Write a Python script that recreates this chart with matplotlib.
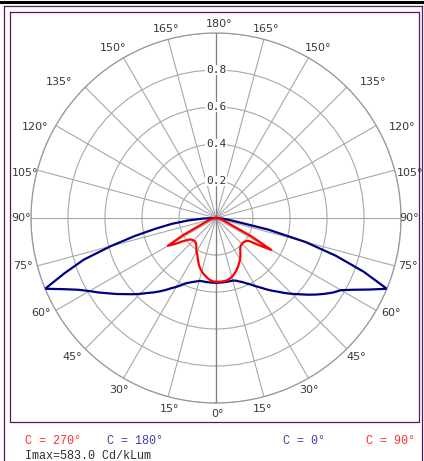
import numpy as np
import matplotlib
matplotlib.use('Agg')
import matplotlib.pyplot as plt
from matplotlib.lines import Line2D

# ---------------- data ----------------
gamma = np.arange(0, 90.1, 2.5)  # degrees, 0 = nadir

c0 = [0.35, 0.35, 0.35, 0.35, 0.35, 0.35, 0.35, 0.355, 0.365, 0.375, 0.39, 0.405,
      0.425, 0.445, 0.47, 0.495, 0.52, 0.55, 0.58, 0.61, 0.645, 0.68, 0.715, 0.75,
      0.78, 0.84, 0.915, 1.0, 0.85, 0.68, 0.50, 0.29, 0.11, 0.06, 0.03, 0.01, 0.0]
c180 = [0.35, 0.35, 0.35, 0.35, 0.35, 0.35, 0.352, 0.36, 0.368, 0.378, 0.39, 0.41,
        0.43, 0.45, 0.475, 0.50, 0.525, 0.55, 0.58, 0.61, 0.64, 0.675, 0.71, 0.75,
        0.79, 0.84, 0.91, 1.0, 0.87, 0.75, 0.59, 0.45, 0.33, 0.24, 0.15, 0.07, 0.0]
c90 = [0.345, 0.345, 0.345, 0.344, 0.342, 0.337, 0.33, 0.32, 0.31, 0.298, 0.285, 0.272,
       0.26, 0.245, 0.23, 0.215, 0.205, 0.2, 0.198, 0.198, 0.2, 0.205, 0.215, 0.27,
       0.345, 0.22, 0.10, 0.07, 0.05, 0.04, 0.03, 0.025, 0.02, 0.015, 0.01, 0.005, 0.0]
c270 = [0.345, 0.343, 0.338, 0.33, 0.32, 0.31, 0.298, 0.285, 0.27, 0.252, 0.235, 0.22,
        0.21, 0.198, 0.185, 0.177, 0.172, 0.17, 0.172, 0.175, 0.18, 0.195, 0.22, 0.26,
        0.30, 0.20, 0.10, 0.07, 0.05, 0.04, 0.03, 0.025, 0.02, 0.015, 0.01, 0.005, 0.0]

ring_values = [0.2, 0.4, 0.6, 0.8]
ring_labels = ['0.2', '0.4', '0.6', '0.8']
angle_ticks = list(range(0, 181, 15))
legend_labels = ['C = 270°', 'C = 180°', 'C = 0°', 'C = 90°']
imax_text = 'Imax=583.0 Cd/kLum'

# label placement offsets (pixels from the outer circle point), layout only
lab_dx_left = [2, 1.5, -4.5, -13, -15, -14, -10, -12, -21, -26, -10.5, -2, 3]
lab_dx_right = [2, -1, 0, 9, 15, 13, 8, 15, 26, 26, 10, 2.5, 3]
lab_dy = [11, 12.5, 12, 8.5, 2.5, 0, 0, 3, 1.5, -5, -10, -10, -9]

# ---------------- figure ----------------
W, H = 424, 461
fig = plt.figure(figsize=(W / 100, H / 100), dpi=100)
fig.patch.set_facecolor('white')


def fx(x):
    return x / W


def fy(y):
    return 1 - y / H


cx, cy, R = 216, 218, 185
ax = fig.add_axes([fx(cx - R), fy(cy + R), 2 * R / W, 2 * R / H], projection='polar')
ax.set_theta_zero_location('S')
ax.set_theta_direction(1)
ax.set_ylim(0, 1)
ax.set_yticks(ring_values + [1.0])
ax.set_yticklabels([])
ax.set_xticks(np.deg2rad(np.arange(0, 360, 15)))
ax.set_xticklabels([])
ax.grid(True, color='#a8a8a8', lw=0.8)
ax.spines['polar'].set_color('#999999')
ax.spines['polar'].set_linewidth(0.9)

# darker vertical axis
ax.plot([0, 0], [0, 1], color='#808080', lw=0.9, zorder=2)
ax.plot([np.pi, np.pi], [0, 1], color='#808080', lw=0.9, zorder=2)

g = np.deg2rad(gamma)
navy = '#000080'
red = '#ff0000'
ax.plot(g, c0, color=navy, lw=1.6, zorder=4)
ax.plot(-g, c180, color=navy, lw=1.6, zorder=4)
ax.plot(g, c90, color=red, lw=1.6, zorder=5)
ax.plot(-g, c270, color=red, lw=1.6, zorder=5)

# ring labels
for v, lab in zip(ring_values, ring_labels):
    ax.text(np.pi, v, lab, ha='center', va='center', fontsize=8,
            family='DejaVu Sans Mono', color='#303030', zorder=3,
            bbox=dict(fc='white', ec='none', pad=0.3))

# angle labels
for i, a in enumerate(angle_ticks):
    sides = [(a, lab_dx_left[i])] if a in (0, 180) else [(-a, lab_dx_left[i]), (a, lab_dx_right[i])]
    for t, dx in sides:
        ax.annotate(f'{a}°', xy=(np.deg2rad(t), 1.0), xytext=(dx, -lab_dy[i]),
                    textcoords='offset pixels', ha='center', va='center',
                    fontsize=8, color='#383838', annotation_clip=False)

# frame lines
purple = '#5a1a5a'
fig.add_artist(Line2D([0, 1], [fy(2), fy(2)], color='black', lw=2.2, transform=fig.transFigure))
fig.add_artist(Line2D([fx(4), fx(4)], [fy(6), 0], color=purple, lw=0.9, transform=fig.transFigure))
fig.add_artist(Line2D([fx(4), fx(422)], [fy(6), fy(6)], color=purple, lw=0.9, transform=fig.transFigure))
fig.add_artist(Line2D([fx(422), fx(422)], [fy(6), 0], color=purple, lw=0.9, transform=fig.transFigure))
# inner rectangle
fig.add_artist(Line2D([fx(9.5), fx(418.5), fx(418.5), fx(9.5), fx(9.5)],
                      [fy(12), fy(12), fy(422), fy(422), fy(12)],
                      color=purple, lw=0.9, transform=fig.transFigure))

# legend texts
mono = 'Liberation Mono'
fig.text(fx(25), fy(441), legend_labels[0], color='#ff3030', fontsize=8.5, family=mono, va='center')
fig.text(fx(107), fy(441), legend_labels[1], color='#4040a8', fontsize=8.5, family=mono, va='center')
fig.text(fx(283), fy(441), legend_labels[2], color='#4040a8', fontsize=8.5, family=mono, va='center')
fig.text(fx(366), fy(441), legend_labels[3], color='#ff3030', fontsize=8.5, family=mono, va='center')
fig.text(fx(25), fy(456), imax_text, color='#303030', fontsize=8.5, family=mono, va='center')

fig.savefig('out.png', dpi=100)
